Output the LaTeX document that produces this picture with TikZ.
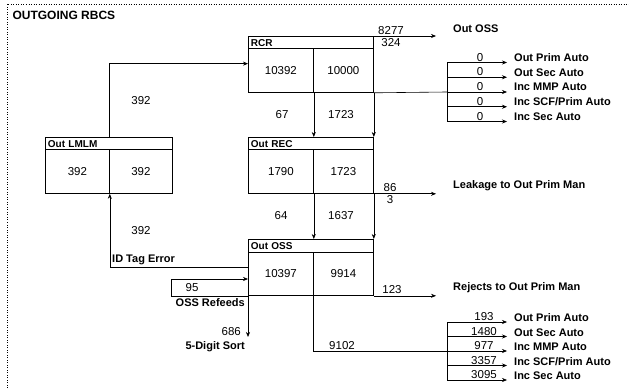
\documentclass[tikz,border=0pt]{standalone}
\usepackage{fontspec}
\setmainfont{Liberation Sans}
\usetikzlibrary{arrows.meta}
\begin{document}
\begin{tikzpicture}[x=1pt,y=-1pt]
    \newcommand{\lblfont}[0]{\fontsize{11}{13}\selectfont\bfseries}
    \newcommand{\numfont}[0]{\fontsize{11.5}{13}\selectfont}

    \tikzstyle{wire} = [line width=0.6pt,draw=black]
    \tikzstyle{flow} = [line width=0.6pt,->,>={Stealth[length=5pt,width=4pt]},draw=black]
    \tikzstyle{outflow} = [flow,shorten >=16pt]
    \tikzstyle{fan} = [flow,shorten >=6pt]

    \tikzstyle{title}=[
      rectangle,
      draw=black,
      line width=0.8pt,
      anchor=north west,
      minimum height=12.5pt,
      inner xsep=2.5pt,
      inner ysep=0pt,
      text width=120pt,
      font=\fontsize{10}{12}\selectfont\bfseries,
    ]
    \tikzstyle{cell}=[
      rectangle,
      draw=black,
      line width=0.8pt,
      anchor=north west,
      minimum height=43.5pt,
      inner sep=0pt,
      font=\numfont,
    ]
    \tikzstyle{num}=[font=\numfont,inner sep=1pt]
    \tikzstyle{lbl}=[font=\lblfont,inner sep=1pt]

    \useasboundingbox (0,0) rectangle (629,390);

    % frame and heading
    \draw[dotted,line width=0.5pt] (7,390) -- (7,4) -- (629,4);
    \node[anchor=west,font=\fontsize{12}{14}\selectfont\bfseries] (head) at (9,15) {OUTGOING RBCS};

    % boxes
    \node[title] (rcrT) at (248,36) {RCR};
    \node[cell,minimum width=65pt] (rcrL) at (248,48.5) {10392};
    \node[cell,minimum width=60pt] (rcrR) at (313,48.5) {10000};

    \node[title] (recT) at (248,137) {Out REC};
    \node[cell,minimum width=65pt] (recL) at (248,149.5) {1790};
    \node[cell,minimum width=60pt] (recR) at (313,149.5) {1723};

    \node[title] (ossT) at (248,239) {Out OSS};
    \node[cell,minimum width=65pt] (ossL) at (248,251.5) {10397};
    \node[cell,minimum width=60pt] (ossR) at (313,251.5) {9914};

    \node[title,text width=122pt] (lmlmT) at (45,137) {Out LMLM};
    \node[cell,minimum width=64pt] (lmlmL) at (45,149.5) {392};
    \node[cell,minimum width=63pt] (lmlmR) at (109,149.5) {392};

    % flows between boxes
    \draw[flow] (lmlmT.north) |- ([yshift=7pt]rcrL.west);
    \node[num] (v392a) at (141,101) {392};
    \draw[flow] ([yshift=6pt]ossL.west) -| (lmlmL.south east);
    \node[num] (v392b) at (141,231) {392};
    \node[lbl,anchor=south west] (tagerr) at (111,266) {ID Tag Error};

    \draw[flow] (rcrL.south east) -- (rcrL.south east |- recT.north);
    \draw[flow] (rcrR.south east) -- (rcrR.south east |- recT.north);
    \node[num] (v67) at (282,115) {67};
    \node[num] (v1723) at (341,115) {1723};

    \draw[flow] (recL.south east) -- (recL.south east |- ossT.north);
    \draw[flow] (recR.south east) -- (recR.south east |- ossT.north);
    \node[num] (v64) at (281,216) {64};
    \node[num] (v1637) at (341,216) {1637};

    % refeeds and 5-digit sort
    \coordinate (refeed) at (171,279);
    \draw[flow] (refeed) -- (refeed -| ossL.west);
    \draw[wire] (refeed) |- (ossL.south west);
    \node[num] (v95) at (192,288) {95};
    \node[lbl,anchor=east] (refeeds) at (246,303) {OSS Refeeds};

    \coordinate (sortEnd) at (248,337);
    \draw[flow] (ossL.south west) -- (sortEnd);
    \node[num,anchor=east] (v686) at (242,332) {686};
    \node[lbl,anchor=east] (sort) at (246,347) {5-Digit Sort};

    % outputs on the right
    \node[lbl,anchor=west] (oOSS) at (452,29) {Out OSS};
    \draw[outflow] (rcrT.north east) -- (rcrT.north east -| oOSS.west);
    \node[num,anchor=south] (v8277) at (391,36) {8277};
    \node[num,anchor=north] (v324) at (391,37) {324};

    \node[lbl,anchor=west] (oLeak) at (452,186) {Leakage to Out Prim Man};
    \draw[outflow] (recR.south east) -- (recR.south east -| oLeak.west);
    \node[num,anchor=south] (v86) at (390,193) {86};
    \node[num,anchor=north] (v3) at (390,194) {3};

    \node[lbl,anchor=west] (oRej) at (452,288) {Rejects to Out Prim Man};
    \draw[outflow] (ossR.south east) -- (ossR.south east -| oRej.west);
    \node[num,anchor=south] (v123) at (392,295) {123};

    % upper fan out of RCR
    \coordinate (fanA1) at (447,62.5);
    \coordinate (fanA2) at (447,77.25);
    \coordinate (fanA3) at (447,92);
    \coordinate (fanA4) at (447,106.75);
    \coordinate (fanA5) at (447,121.5);
    \draw[wire] (rcrR.south east) -- (fanA3);
    \draw[wire] (fanA1) -- (fanA5);

    \node[lbl,anchor=west] (a1) at (513,57.5) {Out Prim Auto};
    \node[lbl,anchor=west] (a2) at (513,72.25) {Out Sec Auto};
    \node[lbl,anchor=west] (a3) at (513,87) {Inc MMP Auto};
    \node[lbl,anchor=west] (a4) at (513,101.75) {Inc SCF/Prim Auto};
    \node[lbl,anchor=west] (a5) at (513,116.5) {Inc Sec Auto};

    \draw[fan] (fanA1) -- (fanA1 -| a1.west);
    \draw[fan] (fanA2) -- (fanA2 -| a2.west);
    \draw[fan] (fanA3) -- (fanA3 -| a3.west);
    \draw[fan] (fanA4) -- (fanA4 -| a4.west);
    \draw[fan] (fanA5) -- (fanA5 -| a5.west);

    \node[num,anchor=south] (va1) at (480,62.5) {0};
    \node[num,anchor=south] (va2) at (480,77.25) {0};
    \node[num,anchor=south] (va3) at (480,92) {0};
    \node[num,anchor=south] (va4) at (480,106.75) {0};
    \node[num,anchor=south] (va5) at (480,121.5) {0};

    % lower fan out of OSS
    \coordinate (fanB1) at (447,322);
    \coordinate (fanB2) at (447,336.5);
    \coordinate (fanB3) at (447,351);
    \coordinate (fanB4) at (447,365.5);
    \coordinate (fanB5) at (447,380);
    \draw[wire] (ossR.south west) |- (fanB3);
    \draw[wire] (fanB1) -- (fanB5);
    \node[num,anchor=south] (v9102) at (342,351) {9102};

    \node[lbl,anchor=west] (b1) at (513,318) {Out Prim Auto};
    \node[lbl,anchor=west] (b2) at (513,332.5) {Out Sec Auto};
    \node[lbl,anchor=west] (b3) at (513,347) {Inc MMP Auto};
    \node[lbl,anchor=west] (b4) at (513,361.5) {Inc SCF/Prim Auto};
    \node[lbl,anchor=west] (b5) at (513,376) {Inc Sec Auto};

    \draw[fan] (fanB1) -- (fanB1 -| b1.west);
    \draw[fan] (fanB2) -- (fanB2 -| b2.west);
    \draw[fan] (fanB3) -- (fanB3 -| b3.west);
    \draw[fan] (fanB4) -- (fanB4 -| b4.west);
    \draw[fan] (fanB5) -- (fanB5 -| b5.west);

    \node[num,anchor=south] (vb1) at (484,322) {193};
    \node[num,anchor=south] (vb2) at (484,336.5) {1480};
    \node[num,anchor=south] (vb3) at (484,351) {977};
    \node[num,anchor=south] (vb4) at (484,365.5) {3357};
    \node[num,anchor=south] (vb5) at (484,380) {3095};
\end{tikzpicture}
\end{document}
